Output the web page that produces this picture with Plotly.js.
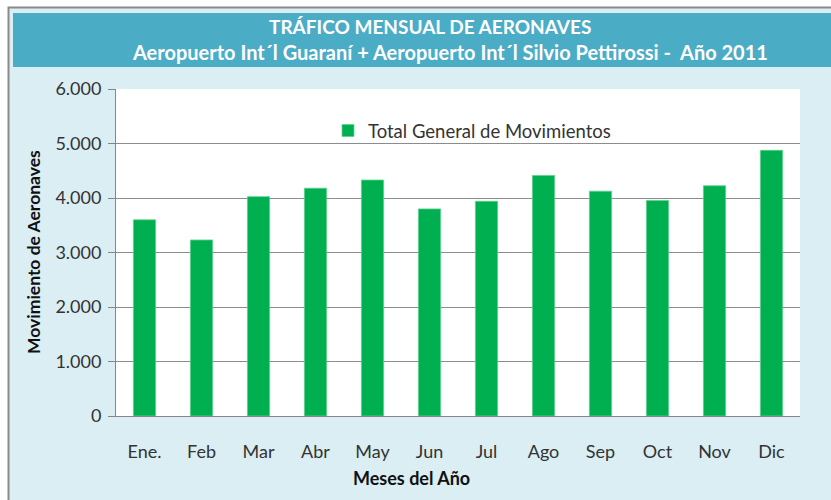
<!DOCTYPE html>
<html>
<head>
<meta charset="utf-8">
<script src="https://cdn.plot.ly/plotly-3.0.1.min.js"></script>
<style>html,body{margin:0;padding:0;background:#fff;}#chart{width:831px;height:500px;}</style>
</head>
<body>
<div id="chart"></div>
<script>
const months = ["Ene.", "Feb", "Mar", "Abr", "May", "Jun", "Jul", "Ago", "Sep", "Oct", "Nov", "Dic"];
const movimientos = [3600, 3230, 4025, 4180, 4330, 3800, 3940, 4415, 4125, 3955, 4225, 4875];
const seriesName = "Total General de Movimientos";
const titleLine1 = "TRÁFICO MENSUAL DE AERONAVES";
const titleLine2 = "Aeropuerto Int´l Guaraní + Aeropuerto Int´l Silvio Pettirossi -  Año 2011";
const yTitle = "Movimiento de Aeronaves";
const xTitle = "Meses del Año";

const W = 831, H = 500;
const L = 116, R = 31, T = 89, B = 84;
const pw = W - L - R, ph = H - T - B;
const px = v => (v - L) / pw;
const py = v => (H - B - v) / ph;

const FONT = "Lato, 'Open Sans', sans-serif";

const trace = {
  type: "bar",
  x: months,
  y: movimientos,
  name: seriesName,
  marker: {color: "#00B050", line: {color: "#5fd08f", width: 0.8}},
  showlegend: true
};

const layout = {
  width: W, height: H,
  margin: {l: L, r: R, t: T, b: B, pad: 0},
  paper_bgcolor: "#ffffff",
  plot_bgcolor: "#ffffff",
  separators: ",.",
  bargap: 0.61,
  font: {family: FONT, color: "#333333", size: 18},
  showlegend: true,
  legend: {
    x: px(328), y: py(112), xanchor: "left", yanchor: "top",
    bgcolor: "rgba(0,0,0,0)", font: {size: 18.5, color: "#333333", family: FONT},
    itemwidth: 30
  },
  xaxis: {
    type: "category",
    showline: true, linecolor: "#868686", linewidth: 1,
    ticks: "", showgrid: false,
    ticklabelstandoff: 19,
    tickfont: {size: 18, color: "#333333", family: FONT},
    fixedrange: true
  },
  yaxis: {
    range: [0, 6000], dtick: 1000, tickformat: ",",
    showline: true, linecolor: "#868686", linewidth: 1,
    ticks: "outside", ticklen: 7, tickcolor: "#868686",
    ticklabelstandoff: 3,
    showgrid: true, gridcolor: "#8c8c8c", gridwidth: 1,
    zeroline: false,
    tickfont: {size: 18, color: "#333333", family: FONT},
    fixedrange: true
  },
  shapes: [
    {type: "rect", xref: "paper", yref: "paper", layer: "below",
     x0: px(8.5), x1: px(845), y0: py(7.5), y1: py(520),
     fillcolor: "#DAEEF3", line: {color: "#8a8a8a", width: 2}},
    {type: "rect", xref: "paper", yref: "paper", layer: "below",
     x0: px(13), x1: px(845), y0: py(13), y1: py(67),
     fillcolor: "#4BACC6", line: {width: 0}},
    {type: "rect", xref: "paper", yref: "paper", layer: "below",
     x0: 0, x1: 1, y0: 0, y1: 1,
     fillcolor: "#ffffff", line: {width: 0}}
  ],
  annotations: [
    {text: "<b>" + titleLine1 + "</b>", xref: "paper", yref: "paper",
     x: px(430), y: py(27), xanchor: "center", yanchor: "middle", showarrow: false,
     font: {size: 19, color: "#ffffff", family: FONT}},
    {text: "<b>" + titleLine2 + "</b>", xref: "paper", yref: "paper",
     x: px(450), y: py(52), xanchor: "center", yanchor: "middle", showarrow: false,
     font: {size: 20, color: "#ffffff", family: FONT}},
    {text: "<b>" + xTitle + "</b>", xref: "paper", yref: "paper",
     x: px(411), y: py(478), xanchor: "center", yanchor: "middle", showarrow: false,
     font: {size: 18, color: "#111111", family: FONT}},
    {text: "<b>" + yTitle + "</b>", xref: "paper", yref: "paper",
     x: px(33), y: py(252), xanchor: "center", yanchor: "middle", showarrow: false,
     textangle: -90,
     font: {size: 17.5, color: "#111111", family: FONT}}
  ]
};

Plotly.newPlot("chart", [trace], layout, {displayModeBar: false, staticPlot: true});
</script>
</body>
</html>
